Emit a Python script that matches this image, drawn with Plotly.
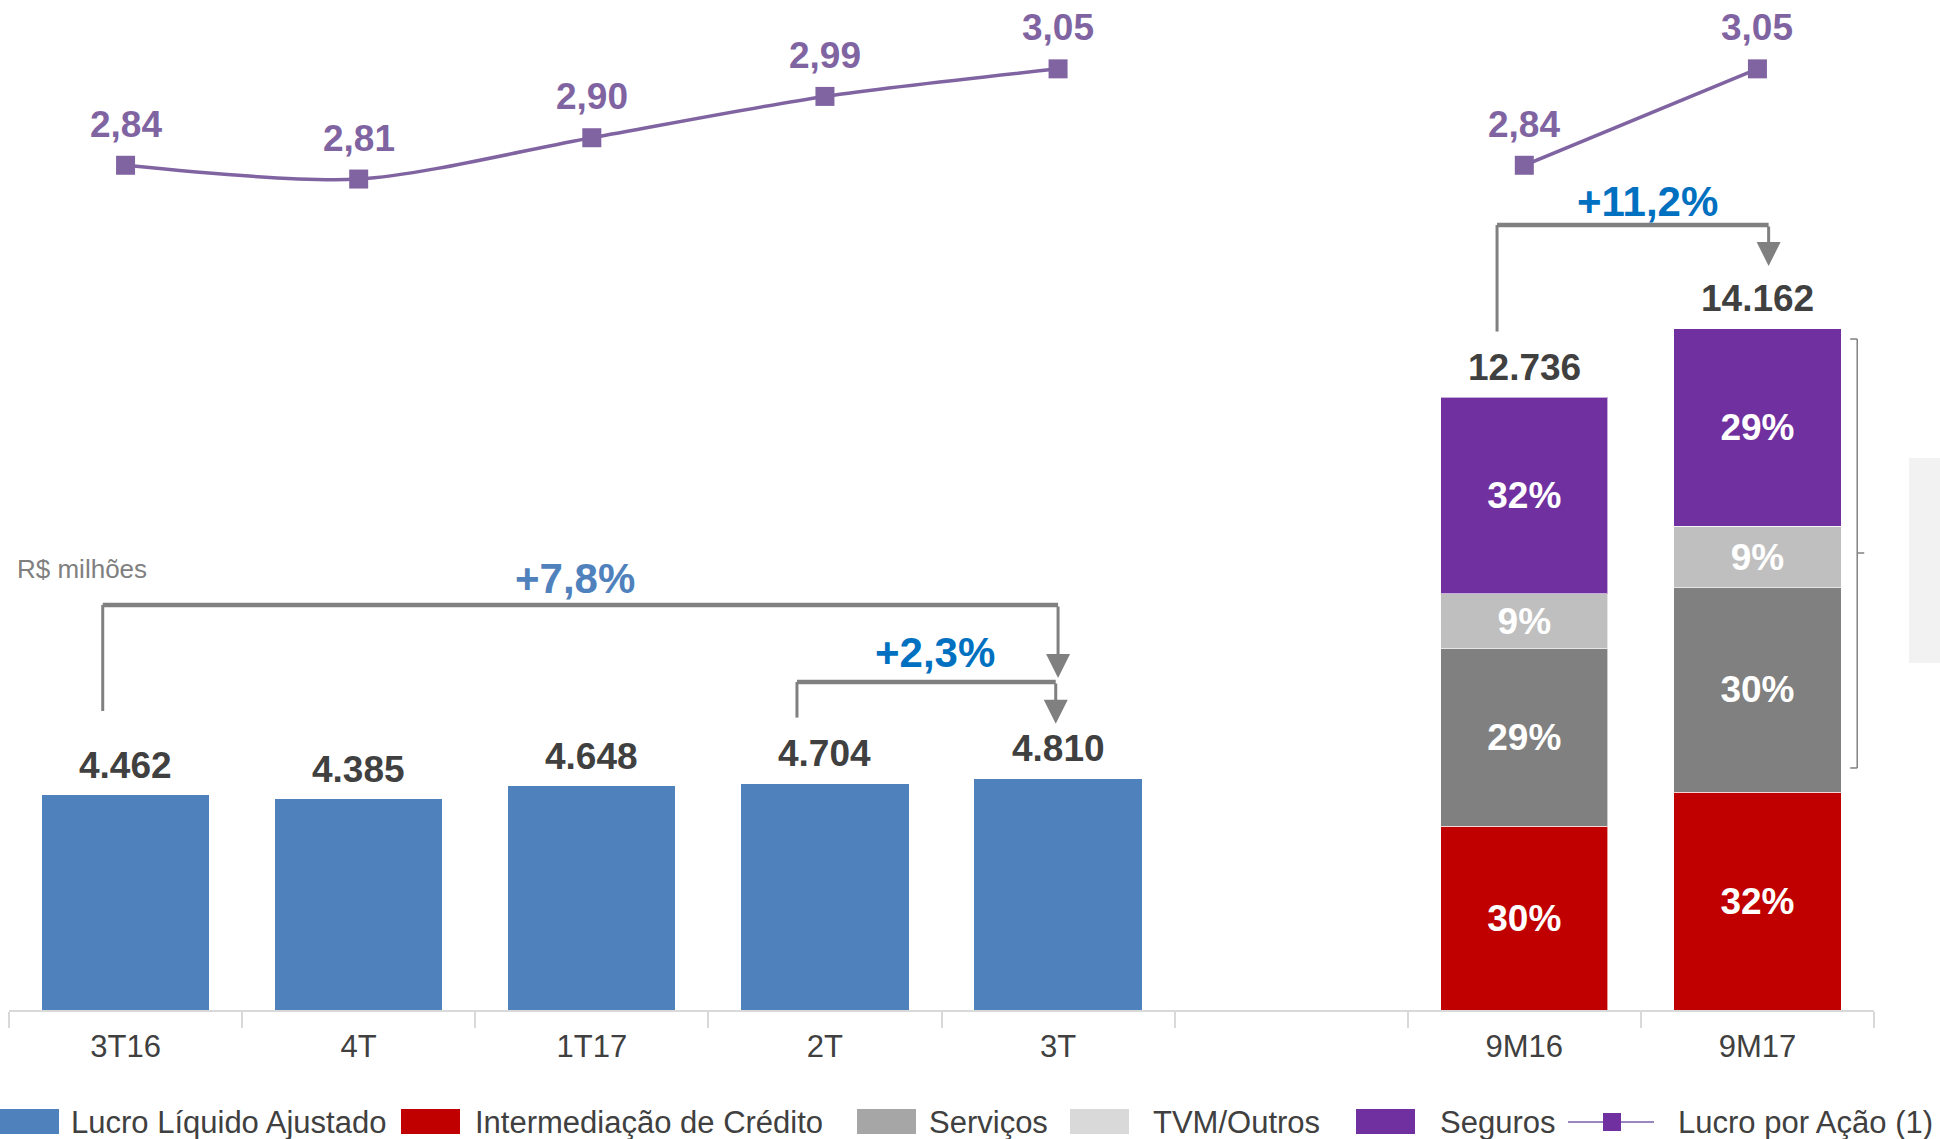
import plotly.graph_objects as go

# ---------------------------------------------------------------------------
# Data (R$ milhões)
# ---------------------------------------------------------------------------
CATEGORIES = ["3T16", "4T", "1T17", "2T", "3T", " ", "9M16", "9M17"]

QUARTERS = ["3T16", "4T", "1T17", "2T", "3T"]
LUCRO_AJUSTADO = [4462, 4385, 4648, 4704, 4810]
LPA_QUARTERS = [2.84, 2.81, 2.90, 2.99, 3.05]

PERIODS_9M = ["9M16", "9M17"]
INTERMEDIACAO = [3821, 4532]
SERVICOS = [3693, 4249]
TVM_OUTROS = [1146, 1275]
SEGUROS = [4076, 4106]
PCT_INTERMEDIACAO = ["30%", "32%"]
PCT_SERVICOS = ["29%", "30%"]
PCT_TVM = ["9%", "9%"]
PCT_SEGUROS = ["32%", "29%"]
TOTAL_9M = [12736, 14162]
LPA_9M = [2.84, 3.05]

GROWTH_LABELS = ["+7,8%", "+2,3%", "+11,2%"]

COLORS = {
    "Lucro Líquido Ajustado": "#4F81BD",
    "Intermediação de Crédito": "#C00000",
    "Serviços": "#808080",
    "TVM/Outros": "#BFBFBF",
    "Seguros": "#7030A0",
    "Lucro por Ação (1)": "#8064A2",
}
LEGEND_SWATCH = {"Serviços": "#A6A6A6", "TVM/Outros": "#D9D9D9"}

FONT = "Arial, 'Liberation Sans', sans-serif"
DARK = "#404040"
GREY = "#808080"

W, H = 1940, 1139
ML, MR, MT, MB = 9, 66, 0, 129


def px(x):
    return (x - ML) / (W - ML - MR)


def py(y):
    return (H - MB - y) / (H - MT - MB)


def fmt_int(v):
    return f"{v:,}".replace(",", ".")


def fmt_dec(v):
    return f"{v:.2f}".replace(".", ",")


fig = go.Figure()

# quarterly bars
fig.add_trace(go.Bar(
    x=QUARTERS, y=LUCRO_AJUSTADO, name="Lucro Líquido Ajustado",
    marker=dict(color=COLORS["Lucro Líquido Ajustado"], line=dict(width=0)),
    showlegend=False,
))

# 9M stacked bars
for name, vals, pcts in [
    ("Intermediação de Crédito", INTERMEDIACAO, PCT_INTERMEDIACAO),
    ("Serviços", SERVICOS, PCT_SERVICOS),
    ("TVM/Outros", TVM_OUTROS, PCT_TVM),
    ("Seguros", SEGUROS, PCT_SEGUROS),
]:
    fig.add_trace(go.Bar(
        x=PERIODS_9M, y=vals, name=name, text=pcts,
        texttemplate="<b>%{text}</b>", textposition="inside", insidetextanchor="middle",
        textangle=0, constraintext="none",
        textfont=dict(family=FONT, size=37, color="white"),
        marker=dict(color=COLORS[name], line=dict(color="rgba(255,255,255,0.6)", width=1)),
        showlegend=False,
    ))

# EPS lines (secondary axis)
line_color = COLORS["Lucro por Ação (1)"]
fig.add_trace(go.Scatter(
    x=QUARTERS, y=LPA_QUARTERS, yaxis="y2", mode="lines+markers",
    line=dict(color=line_color, width=3.5, shape="spline", smoothing=0.8),
    marker=dict(symbol="square", size=19, color=line_color),
    showlegend=False,
))
fig.add_trace(go.Scatter(
    x=PERIODS_9M, y=LPA_9M, yaxis="y2", mode="lines+markers",
    line=dict(color=line_color, width=3.5),
    marker=dict(symbol="square", size=19, color=line_color),
    showlegend=False,
))

annotations = []
shapes = []

# totals above bars
for cat, val in list(zip(QUARTERS, LUCRO_AJUSTADO)) + list(zip(PERIODS_9M, TOTAL_9M)):
    annotations.append(dict(
        x=cat, y=val, xref="x", yref="y", text=f"<b>{fmt_int(val)}</b>", showarrow=False,
        yanchor="middle", yshift=30, font=dict(family=FONT, size=37, color=DARK),
    ))

# EPS labels
for cat, val in list(zip(QUARTERS, LPA_QUARTERS)) + list(zip(PERIODS_9M, LPA_9M)):
    annotations.append(dict(
        x=cat, y=val, xref="x", yref="y2", text=f"<b>{fmt_dec(val)}</b>", showarrow=False,
        yanchor="middle", yshift=41, font=dict(family=FONT, size=37, color=line_color),
    ))

# growth brackets: (x_left, y_left_bottom, y_top, x_right, y_tip, label, label_x, label_y, color)
brackets = [
    (-0.098, 6217, 8421, 4.0, 6903, GROWTH_LABELS[0], 1.93, 8982, "#4F81BD"),
    (2.88, 6080, 6820, 3.99, 5951, GROWTH_LABELS[1], 3.47, 7423, "#0070C0"),
    (5.883, 14106, 16322, 7.048, 15469, GROWTH_LABELS[2], 6.53, 16806, "#0070C0"),
]
for xl, yb, yt, xr, ytip, label, lx, ly, col in brackets:
    shapes.append(dict(type="line", xref="x", yref="y", x0=xl, x1=xl, y0=yb, y1=yt,
                       line=dict(color=GREY, width=3)))
    shapes.append(dict(type="line", xref="x", yref="y", x0=xl, x1=xr, y0=yt, y1=yt,
                       line=dict(color=GREY, width=4.5)))
    annotations.append(dict(
        x=xr, y=ytip, ax=xr, ay=yt, xref="x", yref="y", axref="x", ayref="y", text="",
        showarrow=True, arrowhead=2, arrowsize=1.6, arrowwidth=3, arrowcolor=GREY, standoff=0,
    ))
    annotations.append(dict(
        x=lx, y=ly, xref="x", yref="y", text=f"<b>{label}</b>", showarrow=False,
        font=dict(family=FONT, size=42, color=col),
    ))

annotations.append(dict(
    x=px(15), y=9169, xref="paper", yref="y", text="R$ milhões", showarrow=False,
    xanchor="left", yanchor="middle", font=dict(family=FONT, size=26, color=GREY),
))

# brace next to 9M17 composition
brace = dict(color=GREY, width=1.5)
shapes += [
    dict(type="line", xref="x", yref="y", x0=7.428, x1=7.428, y0=5032, y1=13951, line=brace),
    dict(type="line", xref="x", yref="y", x0=7.398, x1=7.428, y0=13951, y1=13951, line=brace),
    dict(type="line", xref="x", yref="y", x0=7.398, x1=7.428, y0=5032, y1=5032, line=brace),
    dict(type="line", xref="x", yref="y", x0=7.428, x1=7.458, y0=9502, y1=9502, line=brace),
]
shapes.append(dict(type="rect", xref="paper", yref="paper", x0=px(1909), x1=px(1945),
                   y0=py(663), y1=py(458), fillcolor="#F2F2F2", line=dict(width=0), layer="below"))

# custom legend
legend_items = [
    ("Lucro Líquido Ajustado", 0, 69, "box"),
    ("Intermediação de Crédito", 401, 473, "box"),
    ("Serviços", 857, 927, "box"),
    ("TVM/Outros", 1070, 1151, "box"),
    ("Seguros", 1356, 1438, "box"),
    ("Lucro por Ação (1)", 1568, 1676, "line"),
]
ly0, ly1, lyc = 1109, 1134, 1122
for name, sx, tx, kind in legend_items:
    if kind == "box":
        shapes.append(dict(type="rect", xref="paper", yref="paper", x0=px(sx), x1=px(sx + 59),
                           y0=py(ly1), y1=py(ly0), line=dict(width=0),
                           fillcolor=LEGEND_SWATCH.get(name, COLORS[name])))
    else:
        shapes.append(dict(type="line", xref="paper", yref="paper", x0=px(sx), x1=px(sx + 86),
                           y0=py(lyc), y1=py(lyc), line=dict(color="#9A86BF", width=2)))
        shapes.append(dict(type="rect", xref="paper", yref="paper", x0=px(sx + 35), x1=px(sx + 53),
                           y0=py(lyc + 9), y1=py(lyc - 9), line=dict(width=0), fillcolor="#7030A0"))
    annotations.append(dict(
        x=px(tx), y=py(lyc), xref="paper", yref="paper", text=name, showarrow=False,
        xanchor="left", yanchor="middle", font=dict(family=FONT, size=31, color=DARK),
    ))

fig.update_layout(
    width=W, height=H, margin=dict(l=ML, r=MR, t=MT, b=MB),
    paper_bgcolor="white", plot_bgcolor="white",
    barmode="stack", bargap=0.283, showlegend=False,
    font=dict(family=FONT, color=DARK),
    xaxis=dict(
        type="category", categoryorder="array", categoryarray=CATEGORIES, range=[-0.5, 7.5],
        showline=True, linecolor="#D9D9D9", linewidth=2, showgrid=False, zeroline=False,
        ticks="outside", tickson="boundaries", ticklen=16, tickcolor="#D9D9D9", tickwidth=1.5,
        ticklabelstandoff=8,
        tickfont=dict(family=FONT, size=31, color=DARK),
    ),
    yaxis=dict(range=[0, 21000], visible=False, fixedrange=True),
    yaxis2=dict(range=[1.0, 3.2], overlaying="y", visible=False),
    shapes=shapes, annotations=annotations,
)

fig.write_html(
    "out.html",
    config={"displayModeBar": False},
    post_script="document.body.style.margin='0';document.body.style.overflow='hidden';",
)
